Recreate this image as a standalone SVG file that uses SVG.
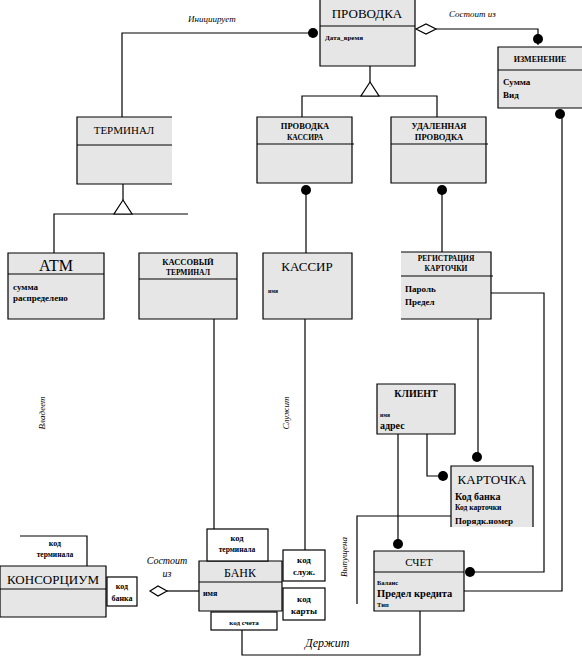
<svg xmlns="http://www.w3.org/2000/svg" width="582" height="659" viewBox="0 0 582 659" font-family="'Liberation Serif', 'Times New Roman', serif">
<style>
.box{fill:#e6e6e6;stroke:none}
.ln{fill:none;stroke:#000;stroke-width:1.2}
.lbl{fill:#fff;stroke:#000;stroke-width:1.2}
.dot{fill:#000}
text{fill:#000}
.t{font-size:13px;text-anchor:middle}
.h{font-size:8.5px;font-weight:bold;text-anchor:middle}
.a{font-size:9px;font-weight:bold}
.s{font-size:6.5px;font-weight:bold}
.c{font-size:8.5px;font-weight:bold;text-anchor:middle}
.i{font-size:9px;font-style:italic}
</style>
<rect width="582" height="659" fill="#fff"/>

<g id="connectors">
<path class="ln" d="M313 33 H122 V117"/>
<circle class="dot" cx="313" cy="33" r="5"/>
<polygon class="lbl" points="416,29 426,24 436,29 426,34"/>
<path class="ln" d="M436 29 H538 V45"/>
<circle class="dot" cx="538" cy="39" r="5"/>
<path class="ln" d="M370 66 V82 M302 117 V96 H437 V117"/>
<polygon class="lbl" points="370,82 379,96 361,96"/>
<path class="ln" d="M123 184 V200 M54 253 V214 H188"/>
<polygon class="lbl" points="123,200 132,214 114,214"/>
<path class="ln" d="M306 190 V253"/>
<circle class="dot" cx="306" cy="190" r="5"/>
<path class="ln" d="M442 190 V252"/>
<circle class="dot" cx="442" cy="190" r="5"/>
<path class="ln" d="M491 293 H544 V572 H470"/>
<circle class="dot" cx="470" cy="572" r="5"/>
<path class="ln" d="M562 114 V591 H464"/>
<circle class="dot" cx="560" cy="114" r="5"/>
<path class="ln" d="M478 319 V457"/>
<circle class="dot" cx="477" cy="457" r="5"/>
<path class="ln" d="M427 434 V476 H443"/>
<circle class="dot" cx="443" cy="476" r="5"/>
<path class="ln" d="M398 434 V544"/>
<circle class="dot" cx="398" cy="544" r="5"/>
<path class="ln" d="M451 516 H357 V604"/>
<path class="ln" d="M214 319 V529"/>
<path class="ln" d="M305 319 V550"/>
<path class="ln" d="M420 611 V655 H242 V630"/>
<polygon class="lbl" points="150,591 158,586 167,591 158,596"/>
<path class="ln" d="M167 591 H199"/>
<text class="i" x="188" y="22">Инициирует</text>
<text class="i" x="449" y="17">Состоит из</text>
<text class="i" transform="translate(45,413) rotate(-90)" text-anchor="middle">Владеет</text>
<text class="i" transform="translate(289,413) rotate(-90)" text-anchor="middle">Служит</text>
<text class="i" transform="translate(347,557) rotate(-90)" text-anchor="middle">Выпущена</text>
<text class="i" x="305" y="647" style="font-size:12px">Держит</text>
<text class="i" x="167" y="564" text-anchor="middle" style="font-size:10px">Состоит</text>
<text class="i" x="167" y="577" text-anchor="middle" style="font-size:10px">из</text>
</g>

<g id="provodka">
<rect class="box" x="320" y="0" width="95" height="66"/>
<path class="ln" d="M320 0 V66 H415 V0 M320 26 H415"/>
<text class="t" x="367" y="18">ПРОВОДКА</text>
<text class="s" x="325" y="40" style="font-size:7px">Дата_время</text>
</g>

<g id="izmenenie">
<rect class="box" x="498" y="47" width="84" height="61"/>
<path class="ln" d="M582 47 H498 V108 H582 M498 70 H582"/>
<text class="h" x="540" y="62" style="font-size:8px">ИЗМЕНЕНИЕ</text>
<text class="a" x="503" y="85">Сумма</text>
<text class="a" x="503" y="98">Вид</text>
</g>

<g id="terminal">
<rect class="box" x="77" y="117" width="95" height="67"/>
<path class="ln" d="M172 117 H77 V184 H172 M77 145 H172"/>
<text class="t" x="124" y="134" style="font-size:11px">ТЕРМИНАЛ</text>
</g>

<g id="provodka-kassira">
<rect class="box" x="257" y="117" width="95" height="66"/>
<path class="ln" d="M257 117 H352 V183 H257 Z M257 144 H354"/>
<text class="h" x="305" y="129">ПРОВОДКА</text>
<text class="h" x="305" y="140" style="font-size:7.5px">КАССИРА</text>
</g>

<g id="udalennaya">
<rect class="box" x="391" y="117" width="95" height="66"/>
<path class="ln" d="M391 117 H486 V183 H391 Z M391 144 H488"/>
<text class="h" x="439" y="129">УДАЛЕННАЯ</text>
<text class="h" x="439" y="140">ПРОВОДКА</text>
</g>

<g id="atm">
<rect class="box" x="8" y="253" width="96" height="66"/>
<path class="ln" d="M8 253 H104 V319 H8 Z M8 274 H104"/>
<text class="t" x="56" y="271" style="font-size:16px">ATM</text>
<text class="a" x="13" y="290">сумма</text>
<text class="a" x="13" y="301">распределено</text>
</g>

<g id="kassovy">
<rect class="box" x="139" y="253" width="98" height="66"/>
<path class="ln" d="M139 253 H237 V319 H139 Z M139 279 H237"/>
<text class="h" x="188" y="265">КАССОВЫЙ</text>
<text class="h" x="188" y="275" style="font-size:7.5px">ТЕРМИНАЛ</text>
</g>

<g id="kassir">
<rect class="box" x="263" y="253" width="89" height="66"/>
<path class="ln" d="M263 253 H352 V319 H263 Z"/>
<text class="t" x="307" y="271">КАССИР</text>
<text class="s" x="268" y="293" style="font-size:5.5px">имя</text>
</g>

<g id="registraciya">
<rect class="box" x="401" y="252" width="90" height="67"/>
<path class="ln" d="M401 252 H491 V319 H401 M401 276 H493"/>
<text class="h" x="446" y="261" style="font-size:7.5px">РЕГИСТРАЦИЯ</text>
<text class="h" x="446" y="271" style="font-size:7.5px">КАРТОЧКИ</text>
<text class="a" x="405" y="292">Пароль</text>
<text class="a" x="405" y="305">Предел</text>
</g>

<g id="klient">
<rect class="box" x="377" y="384" width="78" height="50"/>
<path class="ln" d="M377 384 H455 V434 H377 Z"/>
<text class="c" x="416" y="397" style="font-size:10px">КЛИЕНТ</text>
<text class="s" x="380" y="417" style="font-size:5.5px">имя</text>
<text class="a" x="380" y="429" style="font-size:10px">адрес</text>
</g>

<g id="kartochka">
<rect class="box" x="451" y="466" width="82" height="61"/>
<path class="ln" d="M451 527 V466 H533 V527"/>
<text class="t" x="492" y="484">КАРТОЧКА</text>
<text class="a" x="455" y="500" style="font-size:10px">Код банка</text>
<text class="a" x="455" y="510" style="font-size:7.5px">Код карточки</text>
<text class="a" x="455" y="524">Порядк.номер</text>
</g>

<g id="schet">
<rect class="box" x="374" y="551" width="90" height="60"/>
<path class="ln" d="M374 551 H464 V611 H374 Z M374 572 H464"/>
<text class="t" x="419" y="566" style="font-size:11px">СЧЕТ</text>
<text class="s" x="377" y="585">Баланс</text>
<text class="a" x="377" y="597" style="font-size:10.5px">Предел кредита</text>
<text class="s" x="377" y="607">Тип</text>
</g>

<g id="bank">
<rect class="box" x="199" y="561" width="83" height="50"/>
<path class="ln" d="M199 561 H282 V611 H199 Z M199 582 H282"/>
<text class="t" x="240" y="577" style="font-size:12px">БАНК</text>
<text class="a" x="203" y="596" style="font-size:8px">имя</text>
</g>

<g id="kod-terminala-bank">
<rect class="lbl" x="207" y="529" width="61" height="32"/>
<text class="c" x="237" y="541">код</text>
<text class="c" x="237" y="552" style="font-size:7.5px">терминала</text>
</g>

<g id="kod-sluzh">
<rect class="lbl" x="283" y="550" width="42" height="31"/>
<text class="c" x="304" y="563" style="font-size:9px">код</text>
<text class="c" x="304" y="575" style="font-size:9px">служ.</text>
</g>

<g id="kod-karty">
<rect class="lbl" x="283" y="588" width="42" height="32"/>
<text class="c" x="304" y="602" style="font-size:9px">код</text>
<text class="c" x="304" y="614" style="font-size:9px">карты</text>
</g>

<g id="kod-scheta">
<rect class="lbl" x="211" y="612" width="66" height="18"/>
<text class="c" x="244" y="625" style="font-size:7px">код счета</text>
</g>

<g id="konsorcium">
<rect class="box" x="0" y="566" width="106" height="51"/>
<path class="ln" d="M0 566 H106 V617 H0 Z M0 589 H106"/>
<text class="t" x="53" y="584">КОНСОРЦИУМ</text>
</g>

<g id="kod-terminala-kons">
<path class="ln" d="M20 536 H87 V566"/>
<text class="c" x="55" y="546" style="font-size:8px">код</text>
<text class="c" x="55" y="557" style="font-size:7.5px">терминала</text>
</g>

<g id="kod-banka">
<rect class="lbl" x="107" y="577" width="30" height="29"/>
<text class="c" x="122" y="589" style="font-size:8px">код</text>
<text class="c" x="122" y="601" style="font-size:8px">банка</text>
</g>
</svg>
